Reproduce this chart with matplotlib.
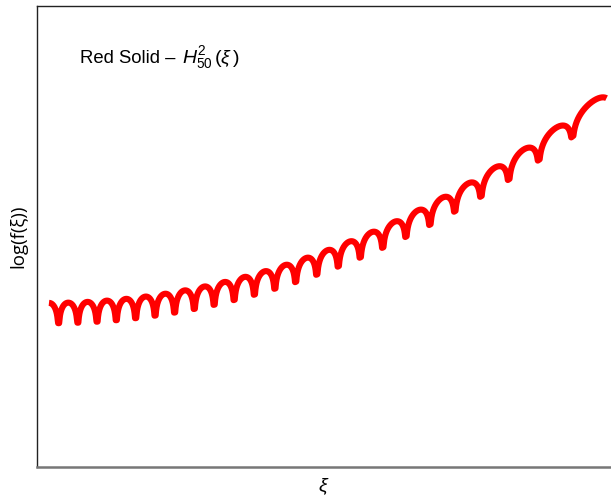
import numpy as np
import matplotlib
matplotlib.use("Agg")
import matplotlib.pyplot as plt

# Order of the Hermite polynomial and the plotted range of xi
N_ORDER = 50
XI_START = 0.0
XI_END = 9.08
XI_LIMITS = (-0.195, 9.153)

CURVE_NAME = "Red Solid –"
CURVE_FORMULA = r"$H^{2}_{50}\,(\xi\,)$"
X_LABEL = r"$\xi$"
Y_LABEL = "log(f(ξ))"

# exaggeration of the oscillation around its envelope, and the depth
# (log units) at which the dips at the zeros are cut off
OSC_GAIN = 1.7
DIP_DEPTH = 8.0

plt.rcParams["mathtext.fontset"] = "custom"
plt.rcParams["mathtext.rm"] = "Liberation Sans"
plt.rcParams["mathtext.it"] = "Liberation Sans:italic"


def hermite_pair(x, n):
    """Physicists' Hermite H_n and H_{n-1} via the three-term recurrence."""
    h_prev = np.ones_like(x)
    h = 2.0 * x
    for k in range(1, n):
        h_prev, h = h, 2.0 * x * h - 2.0 * k * h_prev
    return h, h_prev


xi = np.linspace(XI_START, XI_END, 40000)
h, h_lower = hermite_pair(xi, N_ORDER)
log_h2 = np.log(h ** 2 + 1e-300)

# smooth amplitude envelope of the oscillation
dh = 2.0 * N_ORDER * h_lower
k2 = 2.0 * N_ORDER + 1.0 - xi ** 2
envelope = np.log(h ** 2 + (dh - xi * h) ** 2 / k2)

log_f = envelope + OSC_GAIN * (log_h2 - envelope)
log_f = np.maximum(log_f, envelope - DIP_DEPTH)

fig = plt.figure(figsize=(6.11, 5.0), dpi=100)
ax = fig.add_axes([37 / 611, 33 / 500, 574 / 611, 461 / 500])

ax.plot(xi, log_f, color="#ff0000", lw=4.4, solid_capstyle="butt",
        solid_joinstyle="round")

ax.set_xlim(*XI_LIMITS)
# vertical scale: start of the curve sits at 0.356, the end at 0.800 of the axes
y0, y1 = log_f[0], log_f[-1]
span = (y1 - y0) / (0.800 - 0.356)
ax.set_ylim(y0 - 0.356 * span, y0 - 0.356 * span + span)

ax.set_xticks([])
ax.set_yticks([])
ax.spines["right"].set_visible(False)
for side in ("left", "top"):
    ax.spines[side].set_color("#222222")
    ax.spines[side].set_linewidth(1.0)
ax.spines["bottom"].set_color("#777777")
ax.spines["bottom"].set_linewidth(1.8)

ax.set_xlabel(X_LABEL, fontsize=14, labelpad=7)
ax.set_ylabel(Y_LABEL, fontsize=13.5, family="Open Sans", labelpad=7)

fig.text(80 / 611, 1 - 63 / 500, CURVE_NAME, fontsize=13.3,
         family="Liberation Sans", va="baseline", ha="left")
fig.text(182 / 611, 1 - 63 / 500, CURVE_FORMULA, fontsize=14,
         va="baseline", ha="left")

fig.savefig("out.png", dpi=100)
